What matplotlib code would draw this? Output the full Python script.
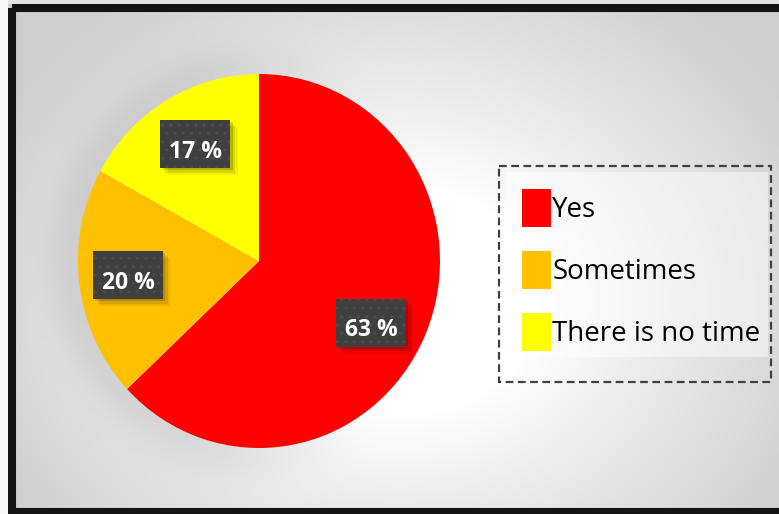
import numpy as np
import matplotlib
matplotlib.use("Agg")
import matplotlib.pyplot as plt
from matplotlib.patches import Rectangle

# Survey answers
categories = ["Yes", "Sometimes", "There is no time"]
shares = [63, 20, 17]
colors = ["#FF0000", "#FFC000", "#FFFF00"]
pct_labels = ["63 %", "20 %", "17 %"]

W, H = 779, 514
fig = plt.figure(figsize=(W / 100, H / 100), dpi=100)
fig.patch.set_facecolor("#f4f4f4")


def fx(px):
    return px / W


def fy(py):
    return 1 - py / H


# ---- background: radial grey-to-white gradient with a soft halo under the pie
bg_ax = fig.add_axes([0, 0, 1, 1], zorder=0)
yy, xx = np.mgrid[0:H, 0:W].astype(float)
cx, cy = 400.0, 300.0
d = np.sqrt(((xx - cx) / 400.0) ** 2 + ((yy - cy) / 330.0) ** 2)
g = 1.0 - 0.19 * np.clip((d - 0.35) / 0.8, 0, 1) ** 0.9
# pie halo, stronger on the left
pcx, pcy, prx, pry = 259.0, 261.0, 181.0, 187.0
e = np.sqrt(((xx - pcx) / prx) ** 2 + ((yy - pcy) / pry) ** 2)
outside = np.clip((e - 1.0) * 181.0, 0, None)
side = np.clip((pcx - xx) / prx + 0.6, 0, 1)
g -= 0.07 * side * np.exp(-(outside / 30.0) ** 2) * (e > 0.9)
g = np.clip(g, 0, 1)
img = np.dstack([g, g, g])
bg_ax.imshow(img, extent=[0, W, H, 0], aspect="auto", interpolation="bilinear")
bg_ax.set_xlim(0, W)
bg_ax.set_ylim(H, 0)
bg_ax.axis("off")

# outer black frame (right side runs past the image edge)
bg_ax.add_patch(Rectangle((12, 8), W + 20, 504, fill=False, edgecolor="#141414",
                          linewidth=5.8, zorder=5, clip_on=False))
# strip above the frame
bg_ax.add_patch(Rectangle((0, 0), W, 4, facecolor="#e4e4e4", edgecolor="none", zorder=6))
bg_ax.add_patch(Rectangle((0, 0), 8, H, facecolor="#f6f6f6", edgecolor="none", zorder=6))

# ---- legend box: dashed border with a lighter inner panel
bg_ax.add_patch(Rectangle((506, 172), 262, 185, facecolor="white", alpha=0.45,
                          edgecolor="none", zorder=2))
bg_ax.add_patch(Rectangle((499, 166), 272, 216, fill=False, edgecolor="#404040",
                          linewidth=1.6, linestyle=(0, (3.5, 2)), zorder=3))

# ---- pie
ax = fig.add_axes([fx(78), fy(448), fx(440) - fx(78), fy(74) - fy(448)], zorder=2)
ax.patch.set_alpha(0)
wedges, _ = ax.pie(shares, colors=colors, startangle=90, counterclock=False,
                   radius=1.0, wedgeprops=dict(linewidth=0))
ax.set_aspect("auto")
ax.set_xlim(-1, 1)
ax.set_ylim(-1, 1)
ax.axis("off")

# percentage tags (dark textured boxes with drop shadow)
tag_centers = [(0.619, -0.329), (-0.724, -0.075), (-0.351, 0.626)]
ax_w_px, ax_h_px = 362.0, 374.0
bw, bh = 70 / ax_w_px * 2, 48 / ax_h_px * 2
sx, sy = 4 / ax_w_px * 2, 4 / ax_h_px * 2
for (tx, ty), lab in zip(tag_centers, pct_labels):
    for k, a in [(3, 0.06), (2, 0.10), (1, 0.16)]:
        ax.add_patch(Rectangle((tx - bw / 2 + sx * k * 0.6, ty - bh / 2 - sy * k * 0.6), bw, bh,
                               facecolor="black", edgecolor="none", alpha=a, zorder=3))
    ax.add_patch(Rectangle((tx - bw / 2, ty - bh / 2), bw, bh, facecolor="#3f3f3f",
                           edgecolor="#4c4c4c", linewidth=0, hatch="..", zorder=4))
    ax.annotate(lab, (tx, ty), xytext=(0, -5.5), textcoords="offset points",
                ha="center", va="center", color="white", fontsize=16.5,
                fontweight="bold", family="Open Sans", zorder=5)

# legend
leg = fig.legend(wedges, categories, loc="upper left",
                 bbox_to_anchor=(fx(522), fy(189)), borderaxespad=0, borderpad=0,
                 frameon=False, handlelength=1.04, handleheight=1.73,
                 handletextpad=0.05, labelspacing=0.86,
                 prop=dict(family="Open Sans", size=20))
for t in leg.get_texts():
    t.set_color("black")

fig.savefig("out.png", dpi=100)
